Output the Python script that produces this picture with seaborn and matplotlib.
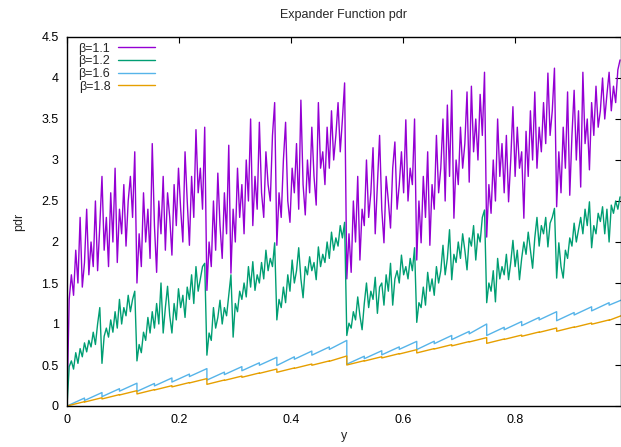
import numpy as np
import pandas as pd
import matplotlib
matplotlib.use("Agg")
import matplotlib.pyplot as plt
import seaborn as sns

# ---- data ----
# beta = 1.1 (sampled every 1/256 in y)
b11 = [0, 1.3, 1.6, 1.35, 1.9, 1.5, 2.3, 1.45, 1.75, 2.4, 1.6, 2.0, 1.7, 2.5, 1.65, 2.2, 2.8, 1.9, 2.3, 1.7,
       2.6, 2.0, 2.9, 1.75, 2.4, 2.1, 2.7, 1.95, 2.5, 2.8, 2.3, 3.1,
       1.5, 2.1, 1.7, 2.6, 2.0, 2.4, 1.8, 3.2, 2.2, 1.63, 2.5, 2.1, 2.8, 1.9, 2.6, 2.3, 1.84, 2.7, 2.2, 2.9,
       2.4, 2.0, 3.1, 2.5, 1.96, 2.8, 2.3, 3.37, 2.6, 2.9, 2.4, 3.4,
       1.41, 2.0, 1.7, 2.5, 1.9, 2.84, 2.2, 1.8, 2.6, 2.1, 3.18, 1.62, 2.4, 2.0, 2.9, 2.3, 2.7, 2.1, 3.0, 2.5,
       3.5, 2.2, 2.8, 2.4, 3.46, 2.6, 2.3, 3.1, 2.7, 2.5, 3.3, 3.7,
       1.96, 2.6, 2.3, 3.0, 3.46, 2.5, 2.24, 2.9, 2.6, 3.2, 2.4, 3.73, 2.7, 2.33, 3.0, 2.6, 3.4, 2.8, 2.45, 3.7,
       2.9, 3.1, 2.7, 3.4, 2.9, 3.6, 3.0, 3.3, 3.7, 3.1, 3.5, 3.94,
       1.55, 2.1, 1.63, 2.5, 2.0, 2.8, 1.78, 2.4, 2.2, 3.0, 2.3, 2.6, 3.15, 2.1, 2.7, 3.3, 2.4, 1.99, 2.8, 2.5,
       2.17, 2.9, 3.22, 2.4, 2.7, 3.1, 2.6, 3.49, 2.5, 2.9, 2.7, 3.5,
       1.78, 2.5, 1.99, 2.8, 2.3, 3.1, 1.96, 2.7, 2.4, 3.3, 2.6, 2.9, 3.5, 2.5, 3.67, 2.8, 3.85, 2.29, 3.0, 2.7,
       3.4, 2.9, 3.2, 3.83, 2.73, 3.9, 3.1, 3.5, 3.0, 3.8, 3.3, 4.07,
       2.06, 2.7, 2.35, 3.0, 2.5, 3.5, 2.8, 3.2, 2.6, 3.3, 2.49, 3.0, 3.65, 2.8, 3.4, 2.9, 3.1, 2.29, 3.35, 2.8,
       3.6, 3.0, 3.83, 2.9, 3.4, 3.1, 3.7, 3.2, 4.06, 3.3, 3.6, 4.12,
       2.43, 3.1, 2.6, 3.4, 2.9, 3.83, 2.57, 3.3, 3.85, 3.0, 3.6, 2.67, 4.07, 3.2, 3.5, 2.88, 3.7, 3.3, 3.9, 3.4,
       3.6, 4.0, 3.5, 3.8, 4.07, 3.6, 3.9, 3.7, 4.1, 4.22]

# beta = 1.2 (sampled every 1/256 in y)
b12 = [0, 0.48, 0.55, 0.45, 0.65, 0.52, 0.7, 0.6, 0.77, 0.66, 0.8, 0.72, 0.9, 0.75, 1.0, 1.2, 0.52, 0.85, 0.95, 0.84,
       1.05, 0.9, 1.15, 0.95, 1.3, 1.0, 1.2, 1.1, 1.35, 1.15, 1.3, 1.4,
       0.55, 0.75, 0.65, 0.9, 0.8, 1.08, 0.89, 1.15, 0.95, 1.25, 1.0, 1.5, 0.89, 1.2, 1.46, 1.1, 0.89, 1.25, 1.05, 1.43,
       1.2, 1.35, 1.08, 1.45, 1.3, 1.6, 1.25, 1.7, 1.4, 1.55, 1.7, 1.74,
       0.62, 0.89, 0.8, 1.2, 0.95, 1.08, 1.29, 1.0, 1.2, 1.1, 1.35, 1.6, 0.84, 1.25, 1.15, 1.4, 1.3, 1.5, 1.33, 1.7,
       1.45, 1.76, 1.41, 1.6, 1.5, 1.75, 1.55, 1.9, 1.65, 1.8, 1.7, 1.99,
       1.05, 1.3, 1.2, 1.45, 1.26, 1.6, 1.4, 1.78, 1.5, 1.65, 1.93, 1.55, 1.32, 1.7, 1.6, 1.82, 1.65, 1.75, 1.54, 1.94,
       1.7, 1.85, 1.75, 2.0, 1.8, 2.12, 1.9, 2.05, 1.95, 2.2, 2.05, 2.24,
       0.86, 1.01, 0.95, 1.15, 1.05, 1.33, 1.1, 0.93, 1.25, 1.5, 1.2, 1.4, 1.3, 1.57, 1.13, 1.45, 1.5, 1.23, 1.6, 1.4,
       1.74, 1.23, 1.55, 1.65, 1.5, 1.84, 1.6, 1.7, 1.55, 1.8, 1.65, 1.93,
       1.02, 1.26, 1.2, 1.45, 1.23, 1.63, 1.4, 1.55, 1.35, 1.7, 1.5, 1.65, 1.96, 1.6, 1.8, 2.15, 1.54, 1.85, 1.75, 2.0,
       1.8, 2.1, 1.9, 1.66, 2.05, 1.95, 2.2, 1.78, 2.1, 2.0, 2.3, 2.39,
       1.26, 1.5, 1.4, 1.65, 1.27, 1.8, 1.55, 1.7, 1.6, 1.85, 1.54, 1.75, 2.02, 1.7, 1.9, 1.54, 1.8, 2.0, 1.85, 2.12,
       1.9, 1.68, 2.05, 2.3, 1.95, 2.2, 2.1, 2.3, 1.94, 2.23, 2.3, 2.41,
       1.56, 1.99, 1.7, 1.56, 1.9, 1.8, 2.05, 1.95, 2.23, 2.0, 2.15, 2.3, 2.1, 2.4, 2.2, 2.49, 1.93, 2.2, 2.1, 2.35,
       2.25, 2.43, 2.1, 2.4, 2.0, 2.45, 2.35, 2.5, 2.4, 2.55]

# beta = 1.6 and 1.8: sawtooth, value just before / just after each jump at k/32
saw_k = list(range(1, 32))
b16_pre = [0.097, 0.164, 0.211, 0.278, 0.275, 0.342, 0.389, 0.456, 0.413, 0.48, 0.527, 0.594, 0.6, 0.67, 0.72, 0.8,
           0.607, 0.674, 0.721, 0.788, 0.79, 0.86, 0.91, 1.0, 0.96, 1.03, 1.08, 1.15, 1.14, 1.21, 1.26]
b16_post = [0.067, 0.114, 0.181, 0.178, 0.245, 0.292, 0.359, 0.316, 0.383, 0.43, 0.497, 0.494, 0.57, 0.62, 0.69, 0.51,
            0.577, 0.624, 0.691, 0.688, 0.76, 0.81, 0.88, 0.86, 0.93, 0.98, 1.05, 1.04, 1.11, 1.16, 1.23]
b16_start, b16_end = 0.0, 1.29

b18_pre = [0.053, 0.101, 0.139, 0.187, 0.2, 0.248, 0.286, 0.334, 0.317, 0.365, 0.403, 0.451, 0.464, 0.512, 0.55, 0.61,
           0.553, 0.601, 0.639, 0.687, 0.7, 0.748, 0.786, 0.834, 0.817, 0.865, 0.903, 0.951, 0.964, 1.012, 1.05]
b18_post = [0.048, 0.086, 0.134, 0.147, 0.195, 0.233, 0.281, 0.264, 0.312, 0.35, 0.398, 0.411, 0.459, 0.497, 0.545, 0.5,
            0.548, 0.586, 0.634, 0.647, 0.695, 0.733, 0.781, 0.764, 0.812, 0.85, 0.898, 0.911, 0.959, 0.997, 1.045]
b18_start, b18_end = 0.0, 1.1

labels = ["β=1.1", "β=1.2", "β=1.6", "β=1.8"]
colors = ["#9400D3", "#009E73", "#56B4E9", "#E69F00"]
x_end = 0.99
x_ticks = [0, 0.2, 0.4, 0.6, 0.8]
y_ticks = [0, 0.5, 1, 1.5, 2, 2.5, 3, 3.5, 4, 4.5]

# ---- build frames ----
def noisy_frame(vals):
    x = np.arange(len(vals)) / 256.0
    return pd.DataFrame({"y": x, "pdr": vals})

def saw_frame(start, pre, post, end):
    xs, vs = [0.0], [start]
    for k, a, b in zip(saw_k, pre, post):
        xs += [k / 32.0, k / 32.0]
        vs += [a, b]
    xs.append(x_end)
    vs.append(end)
    return pd.DataFrame({"y": xs, "pdr": vs})

frames = [noisy_frame(b11), noisy_frame(b12),
          saw_frame(b16_start, b16_pre, b16_post, b16_end),
          saw_frame(b18_start, b18_pre, b18_post, b18_end)]

sns.set_theme(style="white")
plt.rcParams["font.family"] = ["Liberation Sans", "DejaVu Sans"]

fig = plt.figure(figsize=(6.21, 4.47), dpi=100)
ax = fig.add_axes([67 / 621, 41 / 447, 1 - 67 / 621, 369 / 447])

for df, lab, col in zip(frames, labels, colors):
    sns.lineplot(data=df, x="y", y="pdr", ax=ax, color=col, label=lab,
                 linewidth=1.0, estimator=None, sort=False)

ax.set_xlim(0, x_end)
ax.set_ylim(0, 4.5)
ax.set_xticks(x_ticks)
ax.set_xticklabels(["0", "0.2", "0.4", "0.6", "0.8"])
ax.set_yticks(y_ticks)
ax.set_yticklabels(["0", "0.5", "1", "1.5", "2", "2.5", "3", "3.5", "4", "4.5"])
ax.tick_params(direction="in", length=4, width=0.8, top=True, right=True,
               labelsize=9, colors="black", pad=6)
for s in ax.spines.values():
    s.set_color("black")
    s.set_linewidth(1.0)

ax.set_xlabel("y", fontsize=9, labelpad=3)
ax.set_ylabel("pdr", fontsize=9, labelpad=12)
ax.set_title("Expander Function pdr", fontsize=9, pad=14)

leg = ax.legend(loc="upper left", bbox_to_anchor=(0.005, 1.008), frameon=False,
                markerfirst=False, fontsize=9, handlelength=3.0, handletextpad=0.6,
                labelspacing=0.05, borderpad=0.2)
for t in leg.get_texts():
    t.set_ha("right")

fig.savefig("out.png", dpi=100)
